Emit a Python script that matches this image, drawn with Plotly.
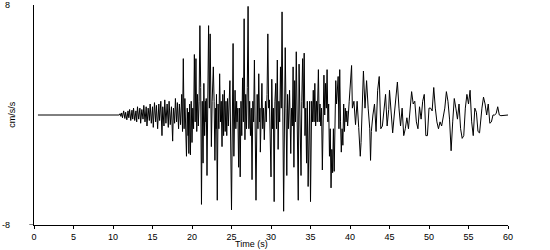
import plotly.graph_objects as go

# Turning points of the accelerogram (time in s, acceleration in cm/s/s)
time_s = [
    0.5, 10.8,
    10.9, 11.0, 11.1, 11.2, 11.35, 11.5, 11.6, 11.75, 11.9, 12.0, 12.1, 12.25, 12.4, 12.5, 12.6, 12.75,
    12.9, 13.0, 13.1, 13.25, 13.4, 13.5, 13.65, 13.8, 13.9, 14.05, 14.2, 14.3, 14.45, 14.6, 14.7, 14.85,
    15.0, 15.1, 15.25, 15.4, 15.5, 15.65, 15.8, 15.9, 16.05, 16.2, 16.3, 16.45, 16.55, 16.7, 16.85, 17.0,
    17.1, 17.25, 17.4, 17.55, 17.65, 17.8, 17.9, 18.05, 18.15, 18.3, 18.4, 18.55, 18.7, 18.8,
    18.9, 19.0, 19.1, 19.3, 19.4, 19.5, 19.55, 19.6, 19.7, 19.8, 19.9, 20.0, 20.1, 20.2, 20.3, 20.4,
    20.5, 20.6, 20.7, 20.8, 20.9, 21.0, 21.1, 21.2, 21.3, 21.4, 21.5, 21.6, 21.7, 21.75, 21.8, 21.9,
    22.1, 22.2, 22.3, 22.45, 22.55, 22.7, 22.8, 22.9, 23.0, 23.05, 23.1, 23.2, 23.3, 23.4, 23.5, 23.6,
    23.7, 23.8, 23.9, 24.0, 24.1, 24.2, 24.3, 24.4, 24.5, 24.6, 24.8, 25.0, 25.2, 25.3, 25.45, 25.55,
    25.65, 25.7, 25.8, 25.9, 26.0, 26.1, 26.2, 26.3, 26.4, 26.5, 26.6, 26.7, 26.8, 26.9, 27.0, 27.1,
    27.2, 27.3, 27.4, 27.5, 27.6, 27.7, 27.8, 27.9, 28.1, 28.25, 28.35, 28.45, 28.55, 28.6, 28.65, 28.75,
    28.85, 28.95, 29.05, 29.15, 29.3, 29.4, 29.5, 29.6, 29.7, 29.8, 29.85, 29.9, 30.0, 30.1, 30.2, 30.3,
    30.4, 30.5, 30.6, 30.7, 30.8, 30.9, 31.0, 31.1, 31.2, 31.3, 31.4, 31.6, 31.7, 31.8, 31.9, 32.0,
    32.1, 32.2, 32.35, 32.5, 32.6, 32.7, 32.8, 32.9, 33.0, 33.1, 33.2, 33.3, 33.45, 33.55, 33.65, 33.7,
    33.8, 33.9, 34.0, 34.1, 34.2, 34.3, 34.4, 34.5, 34.6, 34.7, 34.8, 34.9, 35.0, 35.15, 35.25, 35.35,
    35.45, 35.55, 35.65, 35.75, 35.85, 36.0, 36.1, 36.2, 36.3, 36.4, 36.5, 36.7, 36.8, 36.9, 37.0, 37.1,
    37.2, 37.3, 37.4, 37.5, 37.6, 37.7, 37.8, 37.9, 38.0, 38.1, 38.2, 38.3, 38.4, 38.5, 38.6, 38.7,
    38.8, 38.9, 39.0, 39.1, 39.2, 39.3, 39.4, 39.5, 39.6, 39.7, 39.9, 40.2,
    40.3, 40.5, 40.7, 40.9, 41.1, 41.3, 41.4, 41.6, 41.7, 41.9, 42.1, 42.3, 42.5, 42.6, 42.7, 42.9,
    43.1, 43.3, 43.5, 43.7, 43.9, 44.1, 44.3, 44.5, 44.7, 44.9, 45.0, 45.2, 45.4, 45.6, 45.8, 46.0,
    46.2, 46.4, 46.6, 46.8, 47.0, 47.2, 47.4, 47.6, 47.8, 48.0, 48.2, 48.4, 48.6, 48.8, 49.0, 49.2,
    49.4, 49.6, 49.8, 50.0, 50.2, 50.4, 50.6, 50.8, 51.0, 51.2, 51.4, 51.6, 51.8, 52.0, 52.2, 52.4,
    52.6, 52.8, 53.0, 53.2, 53.4, 53.6, 53.8, 54.0, 54.2, 54.4, 54.6, 54.8, 55.0, 55.2, 55.4, 55.6,
    55.8, 56.0, 56.2, 56.4, 56.7, 56.9, 57.1, 57.3, 57.5, 57.7, 57.9, 58.1, 58.3, 58.5, 58.7, 58.9,
    59.1, 60.0,
]

accel = [
    0.0, 0.0,
    0.1, -0.1, 0.15, -0.2, 0.3, -0.25, 0.2, -0.35, 0.3, -0.2, 0.4, -0.4, 0.35, -0.3, 0.5, -0.4,
    0.3, -0.5, 0.6, -0.3, 0.5, -0.6, 0.4, -0.3, 0.7, -0.5, 0.6, -0.8, 0.5, -0.4, 0.8, -0.6,
    0.6, -0.9, 0.9, -0.5, 0.7, -1.0, 0.8, -0.4, 1.0, -1.5, 0.6, -0.8, 1.1, -0.6, 0.8, -0.9,
    1.0, -0.7, 0.6, -1.9, 0.5, -0.6, 1.2, -0.5, 0.9, -1.0, 0.8, -0.7, 1.5, -1.2,
    4.1, -1.0, 1.2, -3.0, 0.5, -1.5, 0.2, -2.8, 0.8, -2.9, 1.0, -2.0, 0.5, -1.0, 4.4, -0.5,
    4.1, -1.2, 1.5, -0.8, 1.0, 6.5, 2.0, -6.5, 1.0, -3.5, 2.3, -1.5, 1.0, -0.5, 1.2, -4.4,
    6.5, 0.5, 5.9, -2.3, 1.0, 3.5, 1.0, -3.3, 0.5, -1.0, 1.5, -6.2, 0.8, -1.0, 3.0, -0.5,
    1.0, -2.3, 1.5, -1.5, 1.8, -1.2, 1.0, -1.5, 1.2, -0.8, 2.5, -6.9, 5.2, -3.0, 1.8, -1.0,
    1.0, -0.5, 0.5, -3.8, 0.5, -4.5, 1.0, -1.5, 2.7, -0.5, 7.0, -1.8, 1.5, -1.0, 2.0, 7.9,
    -1.0, 1.0, -1.5, 0.5, -4.7, 1.0, -0.5, 4.0, -6.2, 1.5, -1.0, 3.0, -0.5, 0.5, -2.7, 0.8,
    2.3, -1.0, 0.5, -1.8, 1.0, -0.5, 1.5, 5.9, 0.5, 1.1, -1.0, 0.5, -4.5, 2.6, -1.0, 0.5,
    -6.3, 1.0, 2.3, -1.0, 4.0, -2.5, 1.0, -0.5, 3.5, 0.5, 7.5, -7.0, 1.0, 4.9, 0.5, -4.4,
    1.5, -1.0, 1.8, -2.8, 0.5, -0.8, 3.5, -3.8, 2.5, -0.5, 4.6, 0.5, -6.2, 3.7, -0.5, 1.0,
    -4.4, 1.0, 4.1, 0.5, 4.5, -1.5, 0.5, -3.5, 1.0, -5.2, 0.5, 1.0, -6.3, 1.0, -0.5, 1.8,
    -0.5, 2.3, -0.8, 1.0, -0.5, 3.3, -0.5, 0.8, -0.8, 0.5, -4.0, 2.9, 0.0, 2.3, 0.5, 3.3,
    -0.5, 0.8, -3.0, -1.0, -5.3, -2.5, -4.2, -1.0, -4.1, 0.5, 2.5, 0.8, 2.0, 2.8, -1.0, 3.3,
    -0.5, -2.7, -1.0, -2.2, 0.8, -1.2, 0.5, -0.5, 0.3, -0.8, 1.0, 3.6,
    0.5, 1.0, -0.7, 1.0, -0.9, -3.0, -2.0, 1.0, 3.2, 0.5, 2.5, 0.5, -1.0, -3.3, -1.2, 0.0,
    0.8, -1.2, 1.8, 2.8, -1.0, -0.8, 0.5, 1.5, -0.8, 0.4, 1.8, -0.2, -1.3, 0.0, 1.5, 2.4,
    0.5, -0.8, 0.5, -1.5, -1.0, -0.2, -1.0, 0.5, 1.7, 0.8, 1.0, -0.5, -1.0, 0.6, -0.3, 1.0,
    1.5, -1.5, -1.5, 0.5, 0.5, 0.3, 2.0, 0.5, -0.5, -1.0, -0.5, -0.8, 0.0, 0.5, 1.7, 1.0,
    -0.3, -2.6, -0.5, 1.2, 0.5, -0.3, 0.8, -1.0, -1.7, -1.5, 0.5, 1.5, 0.8, 1.8, -0.5, -1.5,
    0.5, 0.2, -1.2, -1.3, 0.5, 1.3, 0.8, 0.0, 0.8, -0.6, -0.5, 0.0, 0.0, 0.1, 0.6, 0.0,
    -0.05, 0.0,
]

x_ticks = [0, 5, 10, 15, 20, 25, 30, 35, 40, 45, 50, 55, 60]
y_ticks = [-8, 8]
y_tick_labels = ["-8", "8"]

FONT = "Liberation Sans, Arial, sans-serif"

fig = go.Figure()
fig.add_trace(go.Scatter(
    x=time_s, y=accel, mode="lines",
    line=dict(color="black", width=1),
    hoverinfo="skip", showlegend=False,
))

fig.update_layout(
    width=550, height=250,
    margin=dict(l=34, r=42, t=5, b=25),
    paper_bgcolor="white", plot_bgcolor="white",
    font=dict(family=FONT, size=9, color="black"),
    showlegend=False,
    xaxis=dict(
        range=[0, 60], tickvals=x_ticks, ticks="outside", ticklen=3,
        tickwidth=1, tickcolor="black", showline=True, linecolor="black",
        linewidth=1, showgrid=False, zeroline=False, tickfont=dict(size=9),
        ticklabelstandoff=0,
    ),
    yaxis=dict(
        range=[-8, 8], showticklabels=False, ticks="",
        showline=True, linecolor="black", linewidth=1, showgrid=False,
        zeroline=False,
    ),
)

# y tick labels placed as annotations so the top one is not dropped
for val, lab in zip(y_ticks, y_tick_labels):
    fig.add_annotation(text=lab, xref="paper", yref="y", x=-0.047, y=val,
                       xanchor="right", yanchor="middle", showarrow=False,
                       font=dict(size=9))

# short extension of the x-axis line to the left of the y-axis
fig.add_shape(type="line", xref="paper", yref="y", x0=-0.01, x1=0, y0=-8, y1=-8,
              line=dict(color="black", width=1))

fig.add_annotation(text="cm/s/s", xref="paper", yref="paper", x=-0.047, y=0.5,
                   xanchor="center", yanchor="middle", textangle=-90,
                   showarrow=False, font=dict(size=9))
fig.add_annotation(text="Time (s)", xref="x", yref="paper", x=27.5, y=-0.114,
                   xanchor="center", yanchor="bottom", showarrow=False,
                   font=dict(size=9), borderpad=0)

fig.write_html("out.html")
